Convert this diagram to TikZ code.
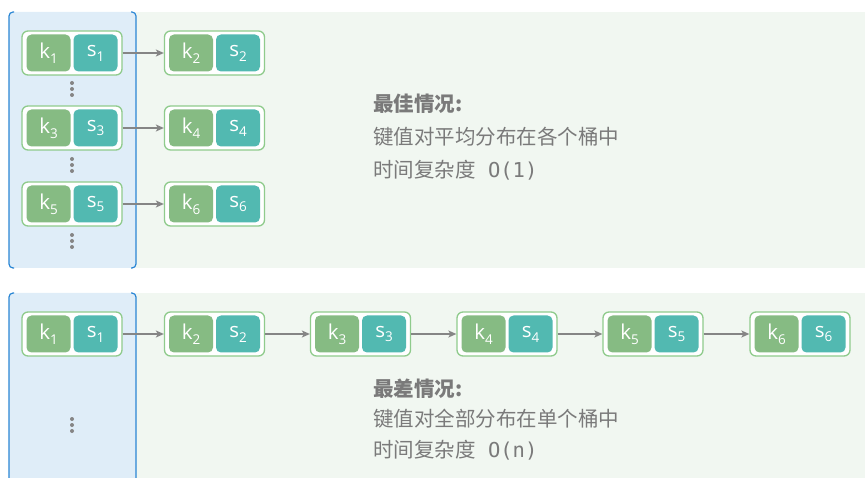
\documentclass[tikz,border=0pt]{standalone}
\usepackage{fontspec}
\setmainfont{Open Sans}
\newfontfamily\cjk{Noto Sans CJK SC}
\newfontfamily\monof{DejaVu Sans Mono}
\usetikzlibrary{arrows.meta}
\definecolor{bluefill}{HTML}{DFEDF8}
\definecolor{blueline}{HTML}{2A86D4}
\definecolor{greenbg}{HTML}{F1F7F1}
\definecolor{boxgreen}{HTML}{8FCB8C}
\definecolor{kgreen}{HTML}{86BB83}
\definecolor{steal}{HTML}{52B9B1}
\definecolor{arrgray}{HTML}{858585}
\definecolor{txtgray}{HTML}{7A7A7A}
\newcommand\subidx[1]{\raisebox{-0.45ex}{\fontsize{13.5}{13.5}\selectfont #1}}
\newcommand\kvpair[4]{%
  \node[outerbox] (#1) at (#2,#3) {};
  \node[kcell] (#1k) at ([xshift=-23.5pt]#1.center) {k\subidx{#4}};
  \node[scell] (#1s) at ([xshift=23.5pt]#1.center) {s\subidx{#4}};
}
\begin{document}
\begin{tikzpicture}[x=1pt,y=-1pt,
  outerbox/.style={draw=boxgreen, line width=1.3pt, fill=white, rounded corners=6pt,
    minimum width=100pt, minimum height=44pt, inner sep=0pt},
  cellbase/.style={rounded corners=5pt, minimum width=44pt, minimum height=37pt,
    inner sep=0pt, text=white, font=\fontsize{20.5}{20.5}\selectfont},
  kcell/.style={cellbase, fill=kgreen},
  scell/.style={cellbase, fill=steal},
  link/.style={draw=arrgray, line width=1.6pt, -{Stealth[length=8pt,width=7pt,inset=2pt]}},
  vdot/.style={circle, fill=arrgray, inner sep=0pt, minimum size=4pt},
  txt/.style={anchor=west, inner sep=0pt, text=txtgray, font=\cjk\fontsize{20.5}{20.5}\selectfont},
  colside/.style={draw=blueline, line width=1.2pt, rounded corners=4pt}
]
\useasboundingbox (0,0) rectangle (865,478);
% panels
\fill[greenbg] (136,12) rectangle (865,268);
\fill[greenbg] (136,293) rectangle (865,478);
\fill[bluefill, rounded corners=4pt] (9,12) rectangle (136,268);
\fill[bluefill, rounded corners=4pt] (9,293) rectangle (136,490);
\draw[colside] (14,12) -- (9,12) -- (9,268) -- (14,268);
\draw[colside] (131,12) -- (136,12) -- (136,268) -- (131,268);
\draw[colside] (14,293) -- (9,293) -- (9,490);
\draw[colside] (131,293) -- (136,293) -- (136,490);

% top panel
\kvpair{a1}{72}{53}{1}
\kvpair{a3}{72}{128}{3}
\kvpair{a5}{72}{204}{5}
\kvpair{a2}{214.5}{53}{2}
\kvpair{a4}{214.5}{128}{4}
\kvpair{a6}{214.5}{204}{6}
\draw[link] (a1.east) -- (a2.west);
\draw[link] (a3.east) -- (a4.west);
\draw[link] (a5.east) -- (a6.west);
\foreach \yy/\nm in {89/d1,165/d2,241/d3}{
  \node[vdot] (\nm a) at (72,\yy-6) {};
  \node[vdot] (\nm b) at (72,\yy) {};
  \node[vdot] (\nm c) at (72,\yy+6) {};
}
\node[txt] (t1) at (373,104) {\bfseries 最佳情况:};
\node[txt] (t2) at (373,137) {键值对平均分布在各个桶中};
\node[txt] (t3) at (373,170) {时间复杂度{\monof\ O(1)}};

% bottom panel
\kvpair{b1}{72}{334}{1}
\kvpair{b2}{214.5}{334}{2}
\kvpair{b3}{360.5}{334}{3}
\kvpair{b4}{507}{334}{4}
\kvpair{b5}{653}{334}{5}
\kvpair{b6}{800}{334}{6}
\draw[link] (b1.east) -- (b2.west);
\draw[link] (b2.east) -- (b3.west);
\draw[link] (b3.east) -- (b4.west);
\draw[link] (b4.east) -- (b5.west);
\draw[link] (b5.east) -- (b6.west);
\node[vdot] (e1) at (72,419) {};
\node[vdot] (e2) at (72,425) {};
\node[vdot] (e3) at (72,431) {};
\node[txt] (u1) at (373,389) {\bfseries 最差情况:};
\node[txt] (u2) at (373,419) {键值对全部分布在单个桶中};
\node[txt] (u3) at (373,450) {时间复杂度{\monof\ O(n)}};
\end{tikzpicture}
\end{document}
